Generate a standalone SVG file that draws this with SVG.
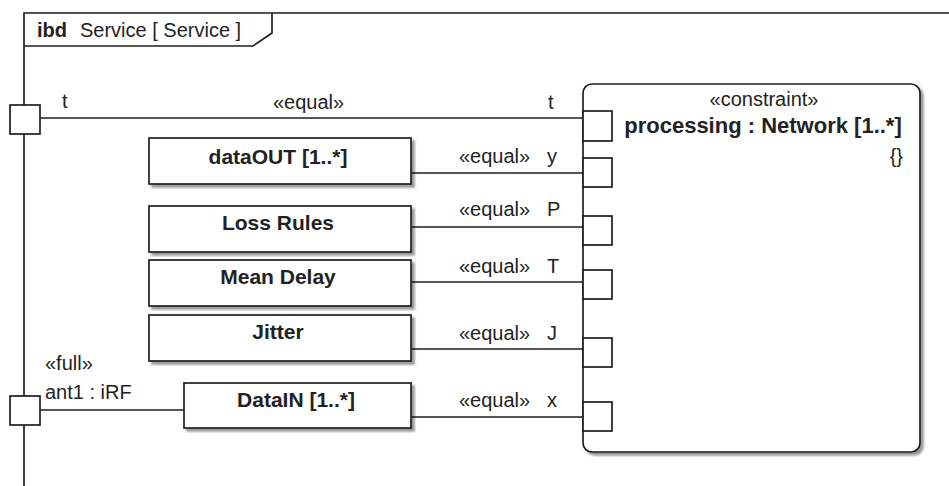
<svg xmlns="http://www.w3.org/2000/svg" width="949" height="486" viewBox="0 0 949 486">
<defs>
<filter id="sh" x="-5%" y="-5%" width="115%" height="115%">
<feGaussianBlur in="SourceAlpha" stdDeviation="1.2"/>
<feOffset dx="3" dy="3" result="o"/>
<feComponentTransfer><feFuncA type="linear" slope="0.4"/></feComponentTransfer>
<feMerge><feMergeNode/><feMergeNode in="SourceGraphic"/></feMerge>
</filter>
</defs>
<style>
.ln{stroke:#1e1e1e;stroke-width:1.7;fill:none}
.box{fill:#fff;stroke:#1e1e1e;stroke-width:1.7}
.port{fill:#fff;stroke:#1e1e1e;stroke-width:1.7}
.t{font-family:"Liberation Sans",Arial,sans-serif;font-size:20px;fill:#222}
.b{font-family:"Liberation Sans",Arial,sans-serif;font-size:21px;font-weight:bold;fill:#222;text-anchor:middle}
.c{text-anchor:middle}
</style>
<rect width="949" height="486" fill="#fff"/>

<g id="frame">
<path class="ln" d="M24,486 V13 H949"/>
<path class="ln" d="M24,46 H253 L272,33 V13"/>
<text x="37" y="37" class="t" style="font-weight:bold">ibd</text>
<text x="80" y="37" class="t">Service [ Service ]</text>
</g>

<g id="connectors">
<line class="ln" x1="40" y1="118" x2="583" y2="118"/>
<line class="ln" x1="411" y1="173" x2="583" y2="173"/>
<line class="ln" x1="411" y1="227" x2="583" y2="227"/>
<line class="ln" x1="411" y1="282" x2="583" y2="282"/>
<line class="ln" x1="411" y1="349" x2="583" y2="349"/>
<line class="ln" x1="411" y1="417" x2="583" y2="417"/>
<line class="ln" x1="40" y1="410" x2="184" y2="410"/>
<text x="273" y="109" class="t">«equal»</text>
<text x="548" y="109" class="t">t</text>
<text x="459" y="163" class="t">«equal»</text>
<text x="547" y="163" class="t">y</text>
<text x="459" y="216" class="t">«equal»</text>
<text x="547" y="216" class="t">P</text>
<text x="459" y="273" class="t">«equal»</text>
<text x="547" y="273" class="t">T</text>
<text x="459" y="340" class="t">«equal»</text>
<text x="547" y="340" class="t">J</text>
<text x="459" y="407" class="t">«equal»</text>
<text x="547" y="407" class="t">x</text>
</g>

<g id="port-t">
<rect class="port" x="10" y="105" width="30" height="29"/>
<text x="62" y="108" class="t">t</text>
</g>

<g id="port-ant1">
<rect class="port" x="10" y="396" width="30" height="29"/>
<text x="45" y="370" class="t">«full»</text>
<text x="45" y="399" class="t">ant1 : iRF</text>
</g>

<g id="dataOUT">
<rect class="box" x="149" y="138" width="262" height="46" filter="url(#sh)"/>
<text x="278" y="164" class="b">dataOUT [1..*]</text>
</g>

<g id="lossRules">
<rect class="box" x="149" y="206" width="262" height="46" filter="url(#sh)"/>
<text x="278" y="230" class="b">Loss Rules</text>
</g>

<g id="meanDelay">
<rect class="box" x="149" y="260" width="262" height="46" filter="url(#sh)"/>
<text x="278" y="284" class="b">Mean Delay</text>
</g>

<g id="jitter">
<rect class="box" x="149" y="315" width="262" height="46" filter="url(#sh)"/>
<text x="278" y="339" class="b">Jitter</text>
</g>

<g id="dataIN">
<rect class="box" x="184" y="383" width="227" height="45" filter="url(#sh)"/>
<text x="296" y="407" class="b">DataIN [1..*]</text>
</g>

<g id="processing">
<rect class="box" x="583" y="84" width="337" height="368" rx="9" filter="url(#sh)"/>
<text x="764" y="106" class="t c">«constraint»</text>
<text x="763" y="133" class="b" style="font-size:22px">processing : Network [1..*]</text>
<text x="903" y="163" class="t" style="text-anchor:end">{}</text>
<rect class="port" x="583" y="111" width="29" height="30"/>
<rect class="port" x="583" y="158" width="29" height="29"/>
<rect class="port" x="583" y="216" width="29" height="29"/>
<rect class="port" x="583" y="270" width="29" height="29"/>
<rect class="port" x="583" y="338" width="29" height="29"/>
<rect class="port" x="583" y="402" width="29" height="29"/>
</g>
</svg>
